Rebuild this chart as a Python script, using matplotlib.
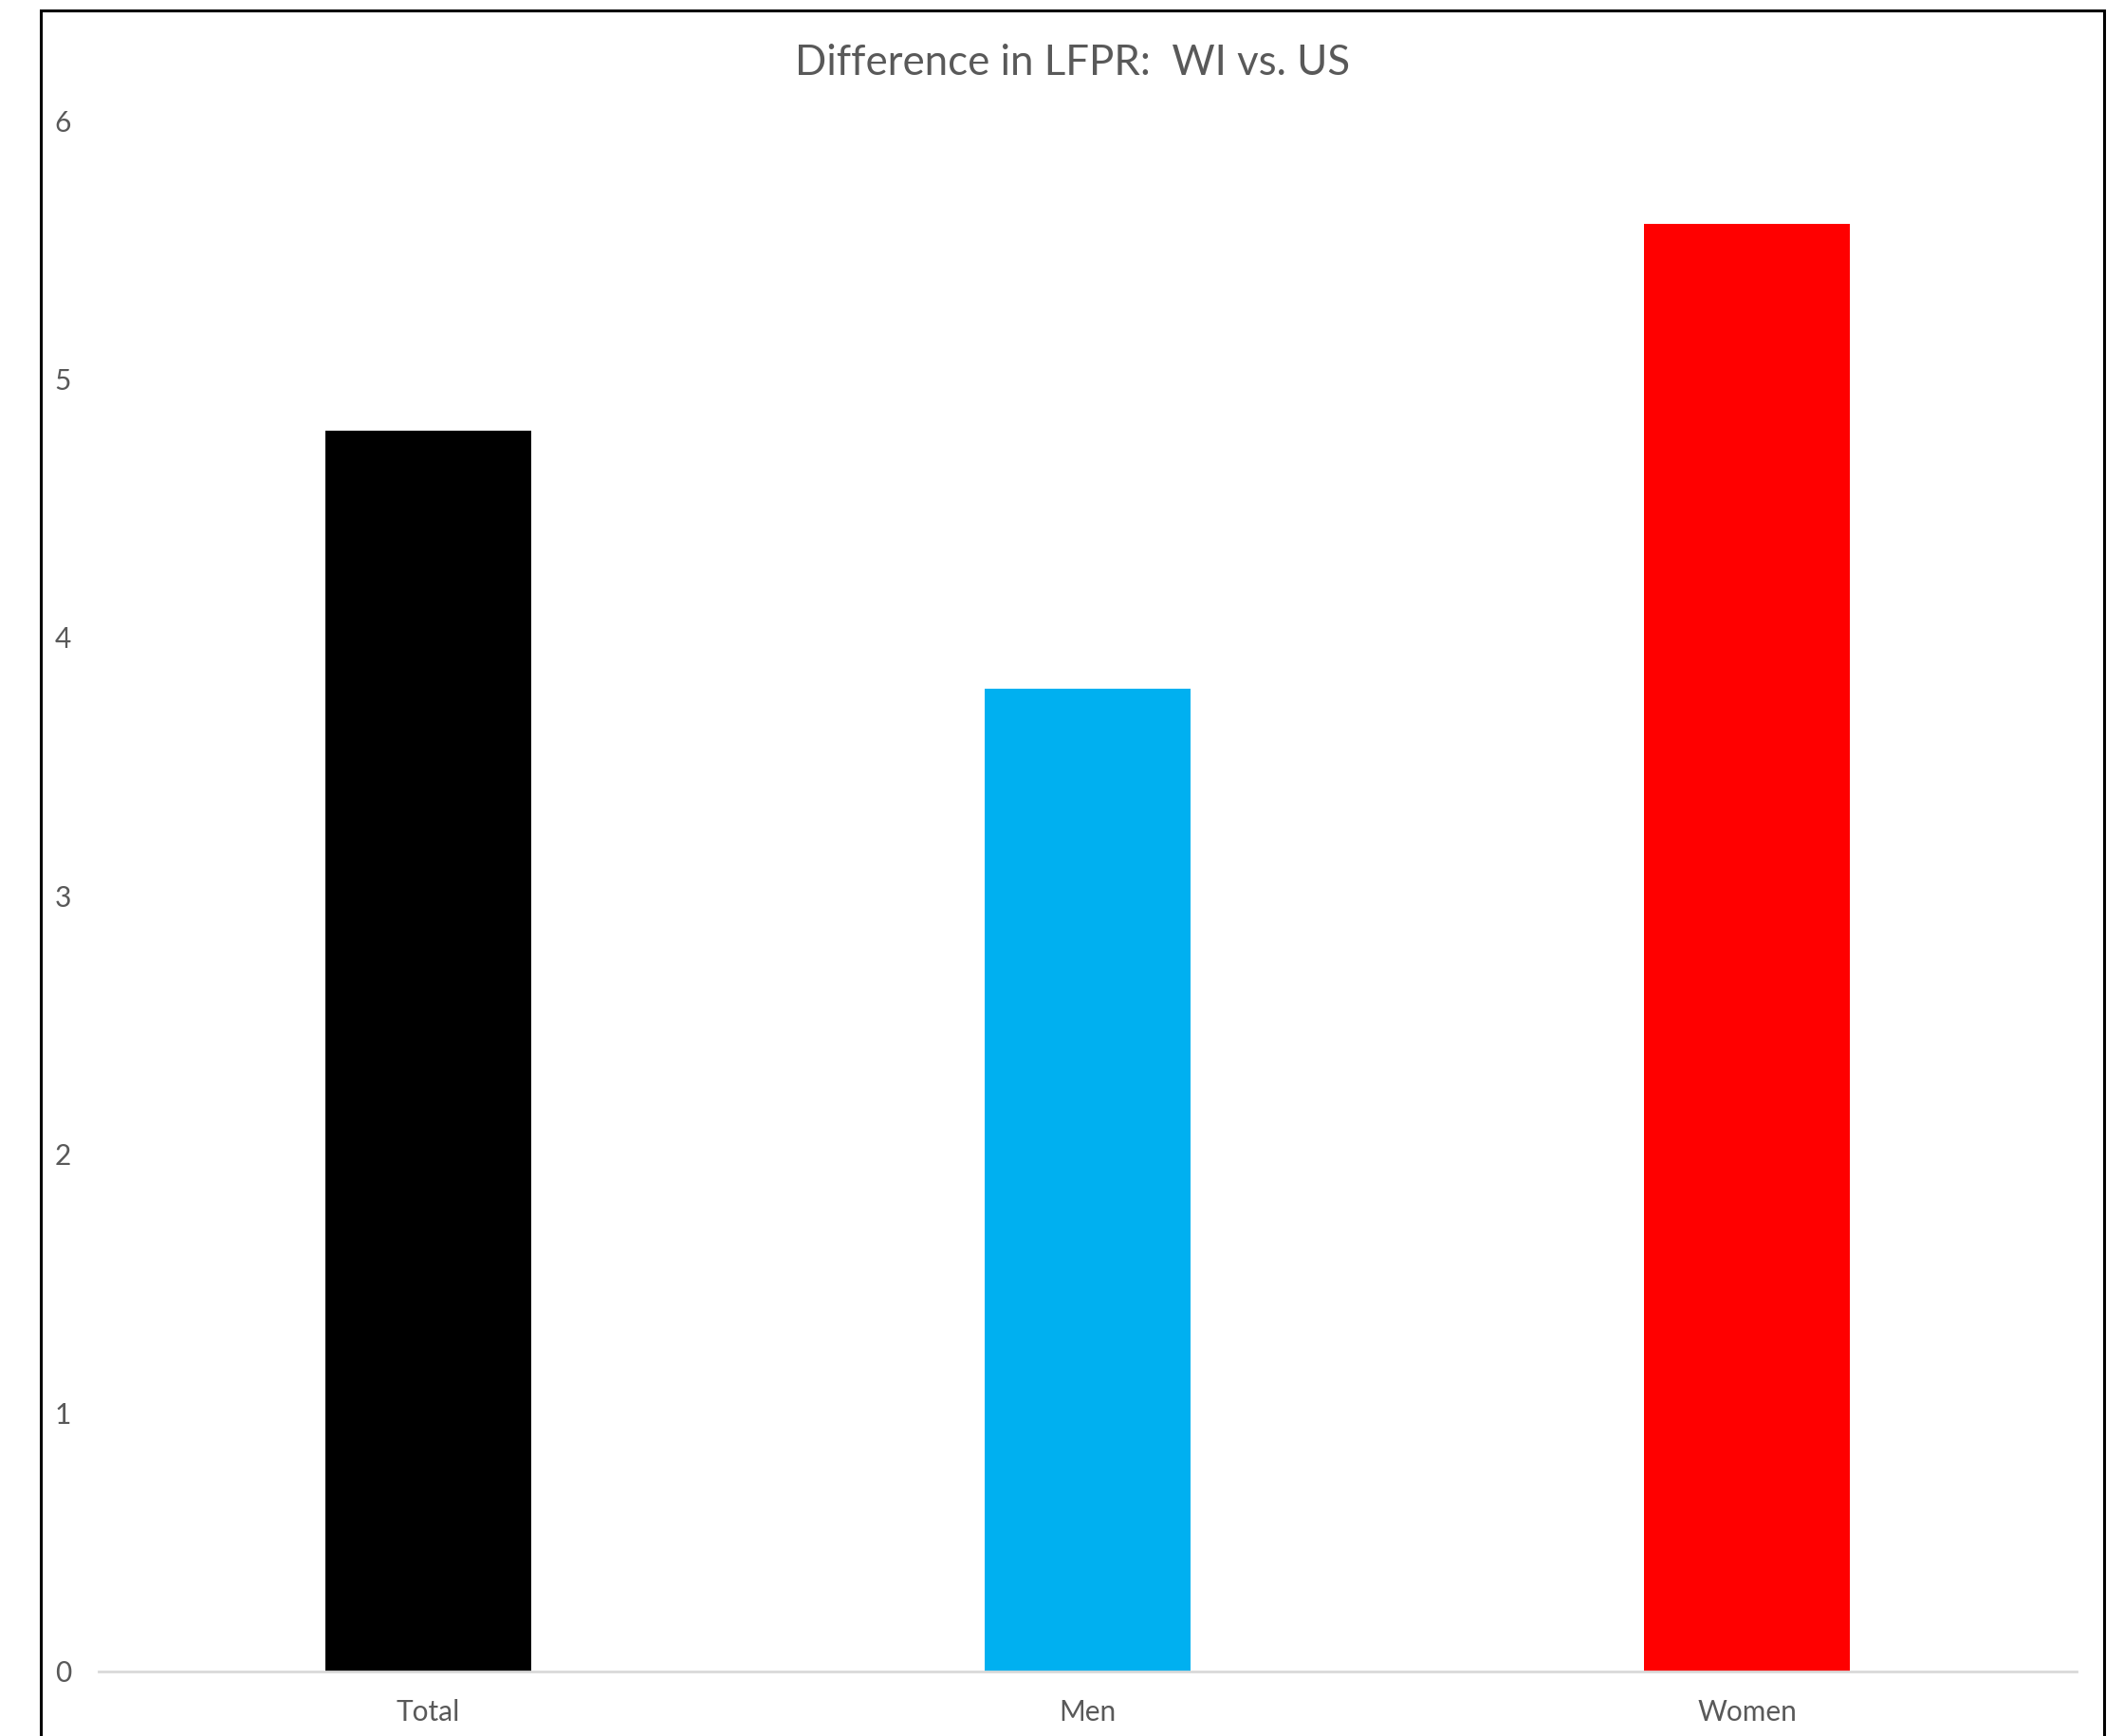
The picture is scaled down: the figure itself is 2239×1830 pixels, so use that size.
import matplotlib
matplotlib.use("Agg")
import matplotlib.pyplot as plt
from matplotlib.patches import Rectangle

categories = ["Total", "Men", "Women"]
values = [4.8, 3.8, 5.6]
colors = ["#000000", "#00B0F0", "#FF0000"]
yticks = [0, 1, 2, 3, 4, 5, 6]
title = "Difference in LFPR:  WI vs. US"

plt.rcParams['font.family'] = ['Lato', 'DejaVu Sans']

fig = plt.figure(figsize=(22.39, 18.30), dpi=100)
ax = fig.add_axes([0.0465, 0.0372, 0.9312, 0.8934])

x = list(range(len(categories)))
ax.bar(x, values, width=0.313, color=colors, zorder=2)

ax.set_xlim(-0.5, 2.5)
ax.set_ylim(0, 6)
ax.set_yticks(yticks)
ax.set_yticklabels([str(t) for t in yticks])
ax.set_xticks(x)
ax.set_xticklabels(categories)

for s in ["top", "right", "left"]:
    ax.spines[s].set_visible(False)
ax.spines["bottom"].set_color("#d9d9d9")
ax.spines["bottom"].set_linewidth(2)
ax.tick_params(axis="both", length=0, labelsize=21.5, colors="#595959")
ax.tick_params(axis="y", pad=21)
ax.tick_params(axis="x", pad=21)

fig.text(0.505, 0.9635, title, ha="center", va="center", fontsize=31.5, color="#595959")

rect = Rectangle((0.0192, -0.01), 0.9714, 1.004, transform=fig.transFigure,
                 fill=False, edgecolor="#000000", linewidth=2.2, clip_on=False)
fig.patches.append(rect)

fig.savefig("out.png", dpi=100)
